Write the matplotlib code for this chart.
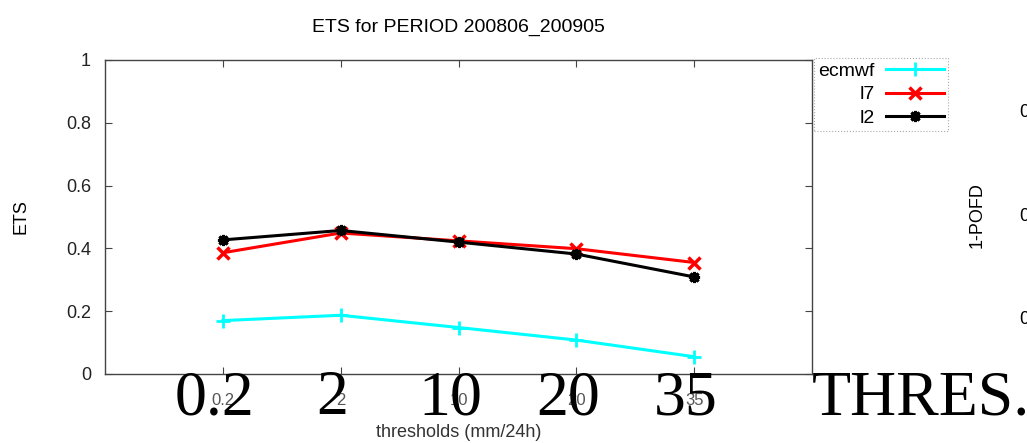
import matplotlib
matplotlib.use("Agg")
import matplotlib.pyplot as plt
import numpy as np

# thresholds (mm/24h) and ETS scores
thresholds = ["0.2", "2", "10", "20", "35"]
ecmwf = [0.17, 0.187, 0.148, 0.108, 0.055]
l7 = [0.386, 0.449, 0.424, 0.399, 0.355]
l2 = [0.427, 0.457, 0.420, 0.382, 0.309]
yticks = [0, 0.2, 0.4, 0.6, 0.8, 1]

plt.rcParams['font.family'] = ['Liberation Sans', 'DejaVu Sans']

fig = plt.figure(figsize=(10.27, 4.43), dpi=100)
ax = fig.add_axes([0.1022, 0.1558, 0.6885, 0.7088])

x = np.arange(1, len(thresholds) + 1)
ax.plot(x, ecmwf, color='cyan', lw=2.2, marker='+', ms=10, mew=2, label='ecmwf')
ax.plot(x, l7, color='red', lw=2.2, marker='x', ms=8, mew=2.5, label='l7')
ax.plot(x, l2, color='black', lw=2.2, marker=(8, 2, 0), ms=8, mew=2.2, label='l2')

ax.set_xlim(0, len(thresholds) + 1)
ax.set_ylim(0, 1)
ax.set_xticks(x)
ax.set_xticklabels(thresholds, color='#555555', fontsize=12)
ax.set_yticks(yticks)
ax.set_yticklabels([f"{v:g}" for v in yticks], fontsize=13, color='#222222')
ax.tick_params(direction='in', length=5, width=0.8, top=True, right=True, colors='#444444')
ax.tick_params(axis='x', pad=14, labelcolor='#555555')
ax.tick_params(axis='y', pad=10, labelcolor='#222222')
for s in ax.spines.values():
    s.set_color('#444444')
    s.set_linewidth(1.0)

ax.set_title("ETS for PERIOD 200806_200905", fontsize=14, pad=20)
ax.set_xlabel("thresholds (mm/24h)", fontsize=13, color='#333333')
ax.xaxis.set_label_coords(0.5, -0.16)
ax.set_ylabel("ETS", fontsize=13)
ax.yaxis.set_label_coords(-0.107, 0.5)

leg = ax.legend(loc='upper left', bbox_to_anchor=(1.003, 1.005), markerfirst=False,
                fontsize=14, handlelength=3.0, labelspacing=0.3, borderpad=0.2,
                handletextpad=0.6, borderaxespad=0, fancybox=False, framealpha=1)
leg.get_frame().set_edgecolor('#aaaaaa')
leg.get_frame().set_linestyle(':')
leg.get_frame().set_linewidth(0.8)
for t in leg.get_texts():
    t.set_ha('right')

# large serif labels overprinted below the axis
big_labels = thresholds + ["THRES."]
big_x = list(x - 0.07) + [6.92]
trans = ax.get_xaxis_transform()
for bx, lab in zip(big_x, big_labels):
    ax.text(bx, -0.128, lab, transform=trans, ha='center', va='baseline',
            fontsize=46, family='Liberation Serif', clip_on=False)

# pieces of the neighbouring panel at the right edge
fig.text(0.951, 0.515, "1-POFD", rotation=90, ha='center', va='center', fontsize=13)
for yy in [0.745, 0.512, 0.278]:
    fig.text(0.9925, yy, "0", ha='left', va='center', fontsize=13)

fig.savefig("out.png", dpi=100)
